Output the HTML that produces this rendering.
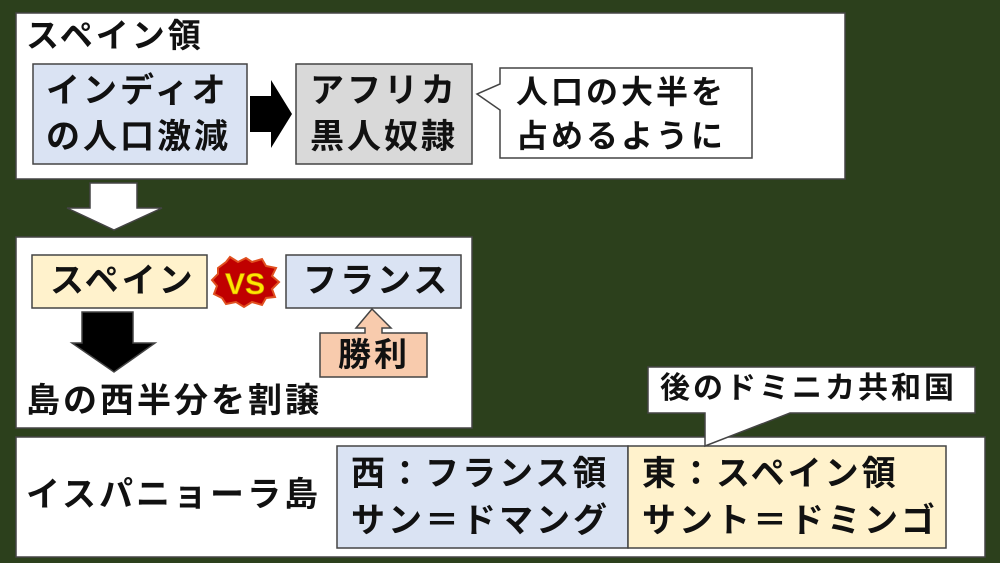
<!DOCTYPE html>
<html><head><meta charset="utf-8"><style>
body{margin:0;width:1000px;height:563px;background:#2c401c;position:relative;overflow:hidden;font-family:"Liberation Sans","Noto Sans CJK JP",sans-serif;font-weight:bold;color:#111}
.t{position:absolute;white-space:nowrap;letter-spacing:3px}
svg{position:absolute;left:0;top:0}
</style></head><body>
<svg width="1000" height="563">
<g stroke="#444" stroke-width="1.5">
<rect x="16" y="13" width="829" height="166" fill="#fff"/>
<rect x="33" y="64" width="214" height="100" fill="#dae3f3"/>
<rect x="296" y="64" width="176" height="100" fill="#d9d9d9"/>
<path d="M500 68 H752 V158 H500 V110 L477 94 L500 84 Z" fill="#fff"/>
<path d="M90 183 H137 V208 H162 L114 230 L67 208 H90 Z" fill="#fff"/>
<rect x="16" y="237" width="456" height="191" fill="#fff"/>
<rect x="32" y="255" width="175" height="53" fill="#fff2cc"/>
<rect x="286" y="255" width="175" height="53" fill="#dae3f3"/>
<path d="M82 312 H133 V343 H155 L114 372 L72 343 H82 Z" fill="#000"/>
<path d="M372 309 L391 328 H382 V333 H427 V377 H320 V333 H365 V328 H356 Z" fill="#f8cbad"/>
<rect x="16" y="437" width="969" height="120" fill="#fff"/>
<rect x="337" y="446" width="291" height="102" fill="#dae3f3"/>
<rect x="628" y="446" width="318" height="102" fill="#fff2cc"/>
<path d="M648 367 H975 V413 H790 L705 446 L705 413 H648 Z" fill="#fff"/>
</g>
<path d="M250 96 H271 V80 L292 114 L271 148 V132 H250 Z" fill="#000"/>
<path d="M218 268 L226 262 L230 257 L238 262 L246 258 L252 262 L262 259 L266 266 L276 268 L272 276 L279 282 L272 289 L275 297 L266 298 L262 305 L252 302 L244 307 L236 302 L226 304 L222 298 L214 294 L217 286 L212 280 L218 274 Z" fill="#c00000" stroke="#e05020" stroke-width="2"/>
<text x="245" y="294" font-family="Liberation Sans,sans-serif" font-weight="bold" font-size="30" fill="#ffe600" text-anchor="middle" stroke="#c08000" stroke-width="0.6">VS</text>
</svg>
<div class="t" style="left:26px;top:14px;font-size:33px;line-height:44px">スペイン領</div>
<div class="t" style="left:46px;top:68px;font-size:34px;line-height:46px">インディオ<br>の人口激減</div>
<div class="t" style="left:310px;top:68px;font-size:34px;line-height:46px">アフリカ<br>黒人奴隷</div>
<div class="t" style="left:516px;top:70px;font-size:32px;line-height:44px">人口の大半を<br>占めるように</div>
<div class="t" style="left:50px;top:258px;font-size:34px;line-height:46px">スペイン</div>
<div class="t" style="left:303px;top:258px;font-size:34px;line-height:46px">フランス</div>
<div class="t" style="left:338px;top:333px;font-size:33px;line-height:44px">勝利</div>
<div class="t" style="left:26px;top:379px;font-size:34px;line-height:44px">島の西半分を割譲</div>
<div class="t" style="left:26px;top:473px;font-size:34px;line-height:44px">イスパニョーラ島</div>
<div class="t" style="left:660px;top:368px;font-size:30px;line-height:42px;letter-spacing:3px">後のドミニカ共和国</div>
<div class="t" style="left:351px;top:451px;font-size:34px;line-height:47px">西：フランス領<br>サン＝ドマング</div>
<div class="t" style="left:642px;top:451px;font-size:34px;line-height:47px">東：スペイン領<br>サント＝ドミンゴ</div>
</body></html>
